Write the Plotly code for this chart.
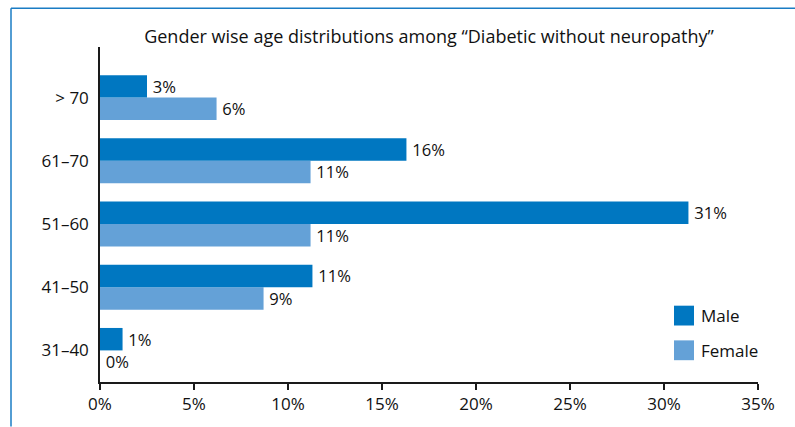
import plotly.graph_objects as go

categories = ["31–40", "41–50", "51–60", "61–70", "> 70"]
male = [1.2, 11.3, 31.3, 16.3, 2.5]
female = [0.0, 8.7, 11.2, 11.2, 6.2]
male_labels = ["1%", "11%", "31%", "16%", "3%"]
female_labels = ["0%", "9%", "11%", "11%", "6%"]
tick_vals = [0, 5, 10, 15, 20, 25, 30, 35]
tick_text = ["0%", "5%", "10%", "15%", "20%", "25%", "30%", "35%"]

MALE_C = "#0077C1"
FEMALE_C = "#64A1D7"
FONT = "Open Sans"
TXT = "#111111"

W, H = 795, 427
L, R, T, B = 100, 37, 47, 42
PW, PH = W - L - R, H - T - B


def px(x):
    return (x - L) / PW


def py(y):
    return (H - B - y) / PH


fig = go.Figure()
fig.add_trace(go.Bar(
    y=categories, x=female, orientation="h", name="Female",
    marker=dict(color=FEMALE_C, line=dict(width=0)),
    text=female_labels, texttemplate="\u2009%{text}", textposition="outside", cliponaxis=False,
    textfont=dict(size=17, color=TXT, family=FONT),
))
fig.add_trace(go.Bar(
    y=categories, x=male, orientation="h", name="Male",
    marker=dict(color=MALE_C, line=dict(width=0)),
    text=male_labels, texttemplate="\u2009%{text}", textposition="outside", cliponaxis=False,
    textfont=dict(size=17, color=TXT, family=FONT),
))

shapes = [
    # frame
    dict(type="line", xref="paper", yref="paper", x0=px(11), x1=px(800), y0=py(8), y1=py(8),
         line=dict(color="#1a7cc4", width=1.5)),
    dict(type="line", xref="paper", yref="paper", x0=px(11), x1=px(11), y0=py(8), y1=py(430),
         line=dict(color="#1a7cc4", width=1.5)),
    # legend swatches
    dict(type="rect", xref="paper", yref="paper", x0=px(674), x1=px(694), y0=py(308), y1=py(328),
         fillcolor=MALE_C, line=dict(width=0)),
    dict(type="rect", xref="paper", yref="paper", x0=px(674), x1=px(694), y0=py(343), y1=py(363),
         fillcolor=FEMALE_C, line=dict(width=0)),
]
annotations = [
    dict(xref="paper", yref="paper", x=px(699), y=py(318), text="Male", showarrow=False,
         xanchor="left", yanchor="middle", font=dict(size=17, color=TXT, family=FONT)),
    dict(xref="paper", yref="paper", x=px(699), y=py(353), text="Female", showarrow=False,
         xanchor="left", yanchor="middle", font=dict(size=17, color=TXT, family=FONT)),
]

fig.update_layout(
    width=W, height=H,
    margin=dict(l=L, r=R, t=T, b=B),
    paper_bgcolor="white", plot_bgcolor="white",
    barmode="group", bargap=0.29, bargroupgap=0,
    showlegend=False,
    title=dict(text="Gender wise age distributions among “Diabetic without neuropathy”",
               x=0.5, xref="paper", xanchor="center", y=1 - 37 / H, yref="container",
               yanchor="middle", font=dict(size=18, color=TXT, family=FONT)),
    font=dict(family=FONT, color=TXT),
    shapes=shapes, annotations=annotations,
)
fig.update_xaxes(range=[0, 35], tickvals=tick_vals, ticktext=tick_text,
                 showgrid=False, zeroline=False, showline=True, linecolor="#1a1a1a", linewidth=1.5,
                 ticks="outside", ticklen=6, tickcolor="#1a1a1a", tickwidth=1.5,
                 tickfont=dict(size=17, family=FONT, color=TXT))
fig.update_yaxes(range=[-0.5, 4.80], showgrid=False, zeroline=False, showline=True,
                 linecolor="#1a1a1a", linewidth=1.5, ticks="", ticklabelstandoff=6,
                 tickfont=dict(size=17, family=FONT, color=TXT))

fig.write_html("out.html")
